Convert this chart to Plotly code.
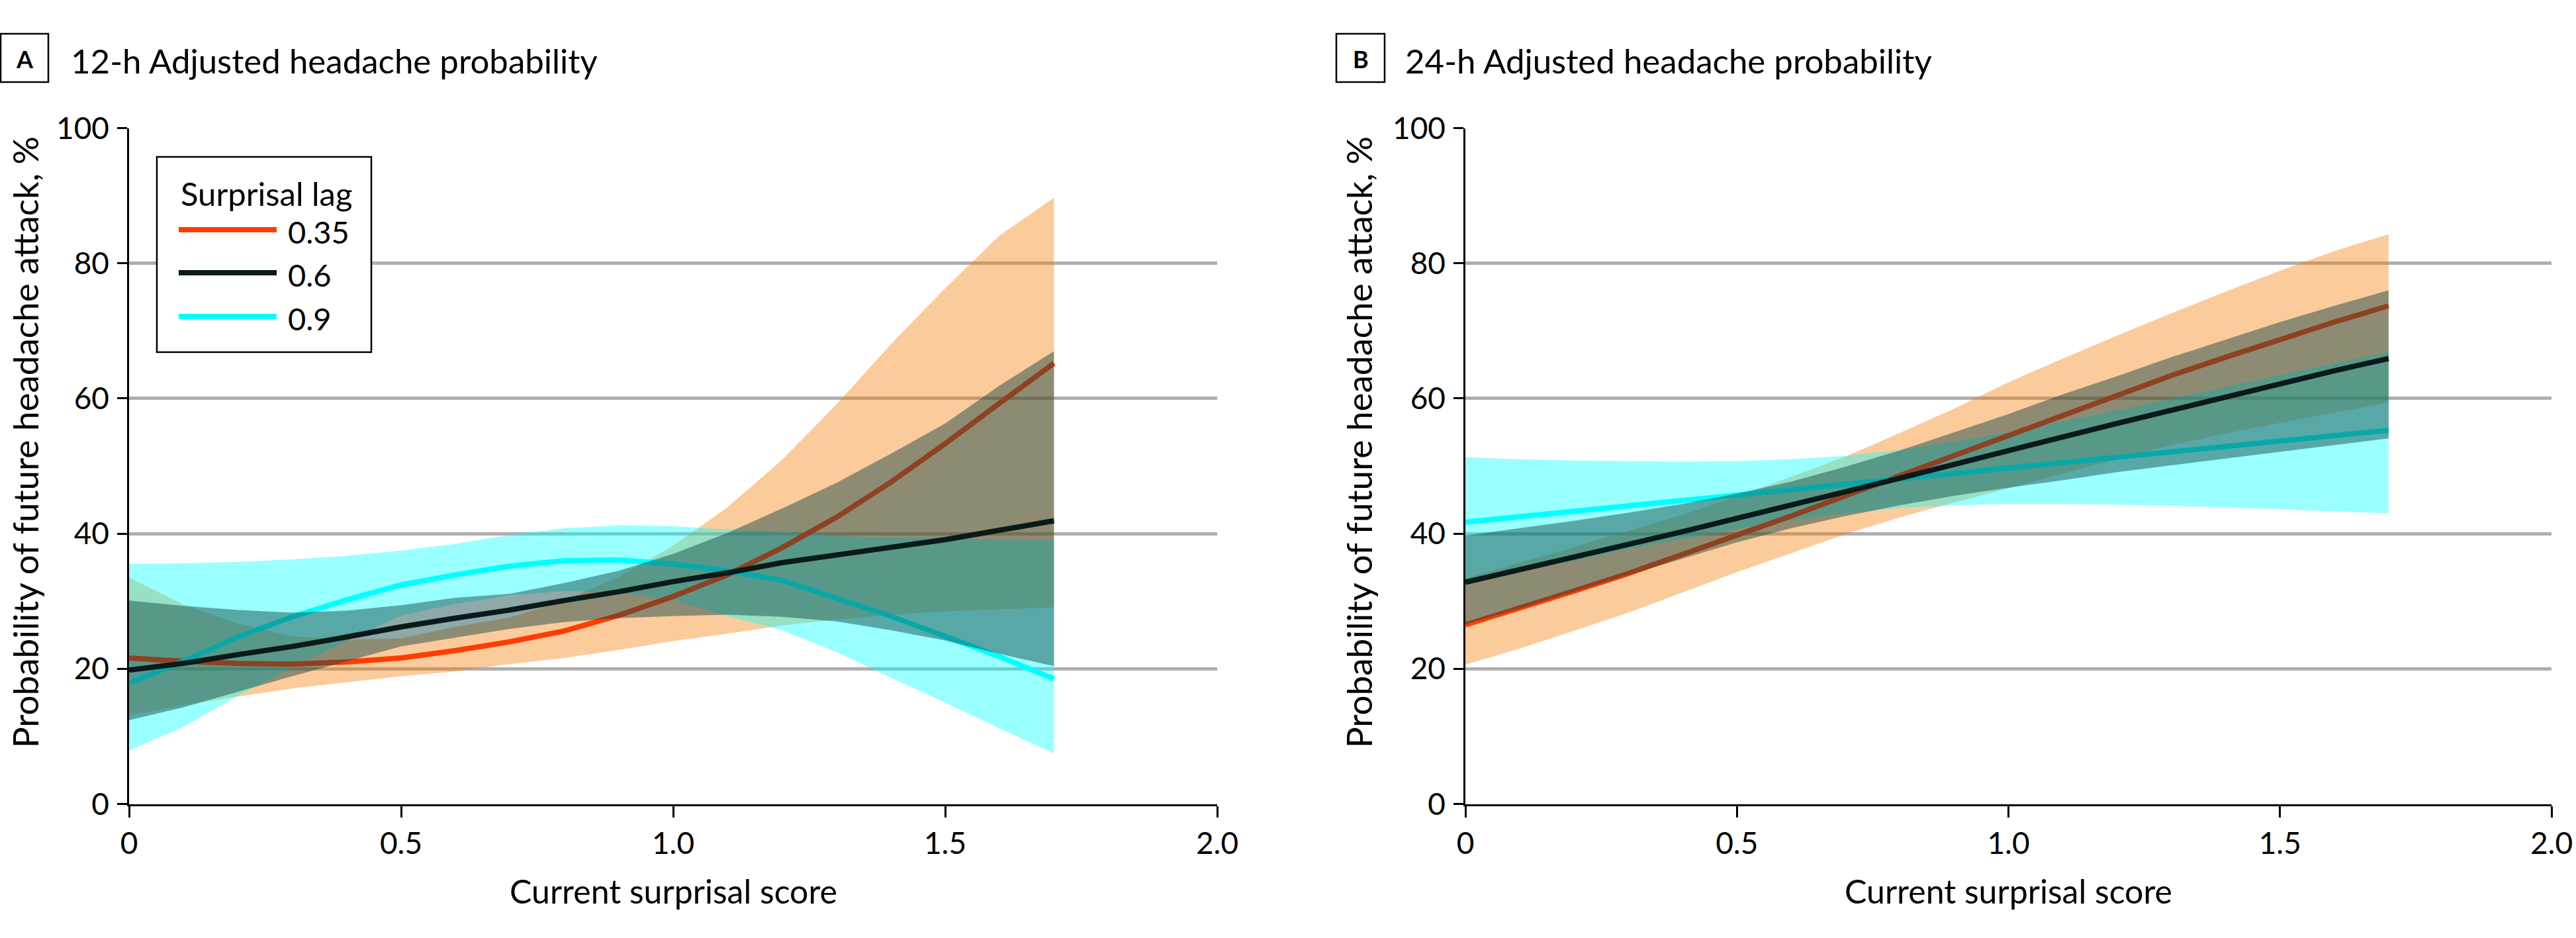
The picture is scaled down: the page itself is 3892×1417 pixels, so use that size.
import plotly.graph_objects as go

W, H = 3892, 1417

# ---------------- data ----------------
x_score = [0.0, 0.1, 0.2, 0.3, 0.4, 0.5, 0.6, 0.7, 0.8, 0.9,
           1.0, 1.1, 1.2, 1.3, 1.4, 1.5, 1.6, 1.7]
lag_labels = ["0.35", "0.6", "0.9"]

# Panel A: 12-h adjusted headache probability (%)
a_035_mid = [21.6, 21.1, 20.8, 20.7, 21.0, 21.6, 22.7, 24.0, 25.6, 27.9, 30.7, 33.9, 37.9, 42.4, 47.6, 53.3, 59.3, 65.2]
a_035_lo = [13.1, 14.6, 15.9, 17.1, 18.0, 18.9, 19.6, 20.7, 21.6, 22.8, 24.1, 25.2, 26.4, 27.3, 28.0, 28.5, 28.8, 29.1]
a_035_hi = [33.5, 29.5, 26.7, 24.8, 24.3, 24.5, 26.2, 27.6, 30.1, 33.6, 38.2, 43.9, 50.9, 59.1, 68.0, 76.3, 84.1, 89.7]

a_06_mid = [19.8, 20.8, 22.1, 23.3, 24.7, 26.2, 27.5, 28.7, 30.1, 31.4, 32.9, 34.2, 35.7, 36.8, 38.0, 39.1, 40.5, 41.9]
a_06_lo = [12.4, 14.3, 16.6, 18.9, 21.1, 23.3, 24.6, 25.9, 26.9, 27.5, 27.8, 28.0, 27.7, 27.0, 25.7, 24.2, 22.2, 20.4]
a_06_hi = [30.1, 29.3, 28.7, 28.3, 28.6, 29.4, 30.5, 31.1, 32.7, 34.5, 37.0, 40.1, 43.7, 47.5, 51.8, 56.3, 61.9, 67.0]

a_09_mid = [17.9, 21.1, 24.7, 27.7, 30.2, 32.4, 33.9, 35.2, 36.0, 36.1, 35.5, 34.5, 33.1, 30.5, 27.8, 24.8, 21.8, 18.5]
a_09_lo = [7.9, 11.4, 16.0, 20.2, 24.1, 27.9, 29.6, 30.9, 31.5, 31.3, 30.2, 27.8, 25.7, 22.5, 18.7, 15.0, 11.2, 7.5]
a_09_hi = [35.5, 35.6, 35.8, 36.2, 36.7, 37.5, 38.5, 39.8, 40.8, 41.2, 41.1, 40.6, 40.3, 39.7, 39.4, 39.3, 39.1, 39.1]

# Panel B: 24-h adjusted headache probability (%)
b_035_mid = [26.5, 28.9, 31.5, 34.1, 36.9, 39.7, 42.6, 45.6, 48.6, 51.6, 54.6, 57.6, 60.5, 63.4, 66.1, 68.8, 71.3, 73.7]
b_035_lo = [20.6, 23.0, 25.6, 28.3, 31.3, 34.3, 37.1, 39.9, 42.4, 44.6, 46.7, 48.9, 51.0, 53.1, 54.8, 56.4, 57.9, 59.4]
b_035_hi = [33.4, 35.7, 38.0, 40.4, 42.8, 45.5, 48.4, 51.4, 54.9, 58.5, 62.4, 65.9, 69.3, 72.6, 75.8, 78.9, 81.8, 84.3]

b_06_mid = [32.8, 34.6, 36.5, 38.4, 40.3, 42.2, 44.2, 46.2, 48.2, 50.3, 52.3, 54.3, 56.3, 58.3, 60.3, 62.2, 64.1, 65.9]
b_06_lo = [26.6, 28.9, 31.4, 33.9, 36.3, 38.7, 40.8, 42.6, 44.2, 45.6, 46.8, 47.9, 49.1, 50.1, 51.1, 52.1, 53.1, 54.1]
b_06_hi = [39.7, 40.8, 41.9, 43.1, 44.4, 45.9, 47.7, 49.9, 52.3, 55.0, 57.7, 60.6, 63.3, 66.1, 68.7, 71.3, 73.7, 76.0]

b_09_mid = [41.7, 42.5, 43.3, 44.1, 44.9, 45.7, 46.5, 47.3, 48.1, 48.9, 49.7, 50.5, 51.3, 52.1, 52.9, 53.7, 54.5, 55.3]
b_09_lo = [32.7, 34.3, 36.0, 37.7, 39.2, 40.7, 42.0, 43.0, 43.8, 44.2, 44.4, 44.4, 44.3, 44.1, 43.9, 43.6, 43.3, 43.0]
b_09_hi = [51.3, 51.0, 50.8, 50.7, 50.6, 50.7, 51.0, 51.5, 52.4, 53.6, 55.0, 56.6, 58.2, 60.0, 61.7, 63.5, 65.2, 66.9]

x_tick_vals = [0, 0.5, 1.0, 1.5, 2.0]
x_tick_text = ["0", "0.5", "1.0", "1.5", "2.0"]
y_tick_vals = [0, 20, 40, 60, 80, 100]

panel_letters = ["A", "B"]
panel_titles = ["12-h Adjusted headache probability", "24-h Adjusted headache probability"]
x_title = "Current surprisal score"
y_title = "Probability of future headache attack, %"
legend_title = "Surprisal lag"

# ---------------- style ----------------
FONT = "Lato, 'Liberation Sans', sans-serif"
line_colors = {"0.35": "#FF3D00", "0.6": "#0A1A1A", "0.9": "#00FFFF"}
band_colors = {"0.35": "rgba(247,125,8,0.40)", "0.6": "rgba(17,70,70,0.47)", "0.9": "rgba(0,255,255,0.40)"}
LINE_W = 8

fig = go.Figure()


def band(xa, ya, lag, lo, hi):
    fig.add_trace(go.Scatter(
        x=x_score + x_score[::-1], y=hi + lo[::-1], xaxis=xa, yaxis=ya,
        mode="lines", fill="toself", fillcolor=band_colors[lag],
        line=dict(width=0), hoverinfo="skip", showlegend=False))


def curve(xa, ya, lag, mid):
    fig.add_trace(go.Scatter(
        x=x_score, y=mid, xaxis=xa, yaxis=ya, mode="lines", name=lag,
        line=dict(color=line_colors[lag], width=LINE_W), showlegend=False))


panels = [
    ("x", "y", {"0.35": (a_035_lo, a_035_mid, a_035_hi), "0.6": (a_06_lo, a_06_mid, a_06_hi),
                "0.9": (a_09_lo, a_09_mid, a_09_hi)}),
    ("x2", "y2", {"0.35": (b_035_lo, b_035_mid, b_035_hi), "0.6": (b_06_lo, b_06_mid, b_06_hi),
                  "0.9": (b_09_lo, b_09_mid, b_09_hi)}),
]

for xa, ya, d in panels:
    band(xa, ya, "0.35", d["0.35"][0], d["0.35"][2])
    band(xa, ya, "0.9", d["0.9"][0], d["0.9"][2])
    curve(xa, ya, "0.35", d["0.35"][1])
    curve(xa, ya, "0.9", d["0.9"][1])
    band(xa, ya, "0.6", d["0.6"][0], d["0.6"][2])
    curve(xa, ya, "0.6", d["0.6"][1])

# ---------------- layout ----------------
def px_x(p):
    return p / W


def px_y(p):
    return 1 - p / H


y_dom = [px_y(1214.5), px_y(193.5)]
xdomA = [px_x(195), px_x(1839)]
xdomB = [px_x(2214), px_x(3855)]

xcommon = dict(range=[0, 2.0], tickvals=x_tick_vals, ticktext=x_tick_text, showgrid=False,
               zeroline=False, showline=True, linecolor="black", linewidth=3,
               ticks="outside", ticklen=17, tickwidth=2.5, tickcolor="black",
               tickfont=dict(family=FONT, size=46, color="black"), ticklabelstandoff=0,
               fixedrange=True)
ycommon = dict(range=[0, 100], tickvals=y_tick_vals, showgrid=True, gridcolor="#AEAEAE",
               gridwidth=5, zeroline=False, showline=True, linecolor="black", linewidth=2.5,
               ticks="outside", ticklen=15, tickwidth=2.5, tickcolor="black",
               tickfont=dict(family=FONT, size=46, color="black"), ticklabelstandoff=3,
               fixedrange=True)

fig.update_layout(
    width=W, height=H, margin=dict(l=0, r=0, t=0, b=0, autoexpand=False),
    paper_bgcolor="white", plot_bgcolor="white",
    font=dict(family=FONT, color="black"),
    showlegend=False,
    xaxis=dict(domain=xdomA, anchor="y", **xcommon),
    yaxis=dict(domain=y_dom, anchor="x", **ycommon),
    xaxis2=dict(domain=xdomB, anchor="y2", **xcommon),
    yaxis2=dict(domain=y_dom, anchor="x2", **ycommon),
)

annotations = []
shapes = []
letter_boxes = [(1, 73), (2019, 2092)]
title_x = [105, 2121]
ytitle_x = [37, 2052]
xtitle_cx = [(195 + 1839) / 2, (2214 + 3855) / 2]
for i in range(2):
    bx0, bx1 = letter_boxes[i]
    shapes.append(dict(type="rect", xref="paper", yref="paper",
                       x0=px_x(bx0), x1=px_x(bx1), y0=px_y(124), y1=px_y(51),
                       line=dict(color="black", width=2.5), fillcolor="white"))
    annotations.append(dict(text="<b>" + panel_letters[i] + "</b>", xref="paper", yref="paper",
                            x=px_x((bx0 + bx1) / 2), y=px_y(89), xanchor="center", yanchor="middle",
                            showarrow=False, font=dict(family=FONT, size=36, color="black")))
    annotations.append(dict(text=panel_titles[i], xref="paper", yref="paper",
                            x=px_x(title_x[i]), y=px_y(91), xanchor="left", yanchor="middle",
                            showarrow=False, font=dict(family=FONT, size=51, color="black")))
    annotations.append(dict(text=y_title, xref="paper", yref="paper", textangle=-90,
                            x=px_x(ytitle_x[i]), y=px_y(668), xanchor="center", yanchor="middle",
                            showarrow=False, font=dict(family=FONT, size=53, color="black")))
    annotations.append(dict(text=x_title, xref="paper", yref="paper",
                            x=px_x(xtitle_cx[i]), y=px_y(1346), xanchor="center", yanchor="middle",
                            showarrow=False, font=dict(family=FONT, size=50, color="black")))

# Legend (panel A): framed box with title, line samples and labels
shapes.append(dict(type="rect", xref="paper", yref="paper",
                   x0=px_x(237), x1=px_x(561), y0=px_y(532), y1=px_y(237),
                   line=dict(color="black", width=2.5), fillcolor="white"))
annotations.append(dict(text=legend_title, xref="paper", yref="paper",
                        x=px_x(271), y=px_y(292), xanchor="left", yanchor="middle",
                        showarrow=False, font=dict(family=FONT, size=49, color="black")))
legend_rows = [347, 412, 478]
for lag, yrow in zip(lag_labels, legend_rows):
    shapes.append(dict(type="line", xref="paper", yref="paper",
                       x0=px_x(270), x1=px_x(418), y0=px_y(yrow), y1=px_y(yrow),
                       line=dict(color=line_colors[lag], width=LINE_W)))
    annotations.append(dict(text=lag, xref="paper", yref="paper",
                            x=px_x(433), y=px_y(yrow + 3), xanchor="left", yanchor="middle",
                            showarrow=False, font=dict(family=FONT, size=47, color="black")))

fig.update_layout(annotations=annotations, shapes=shapes)

fig.write_html("out.html")
